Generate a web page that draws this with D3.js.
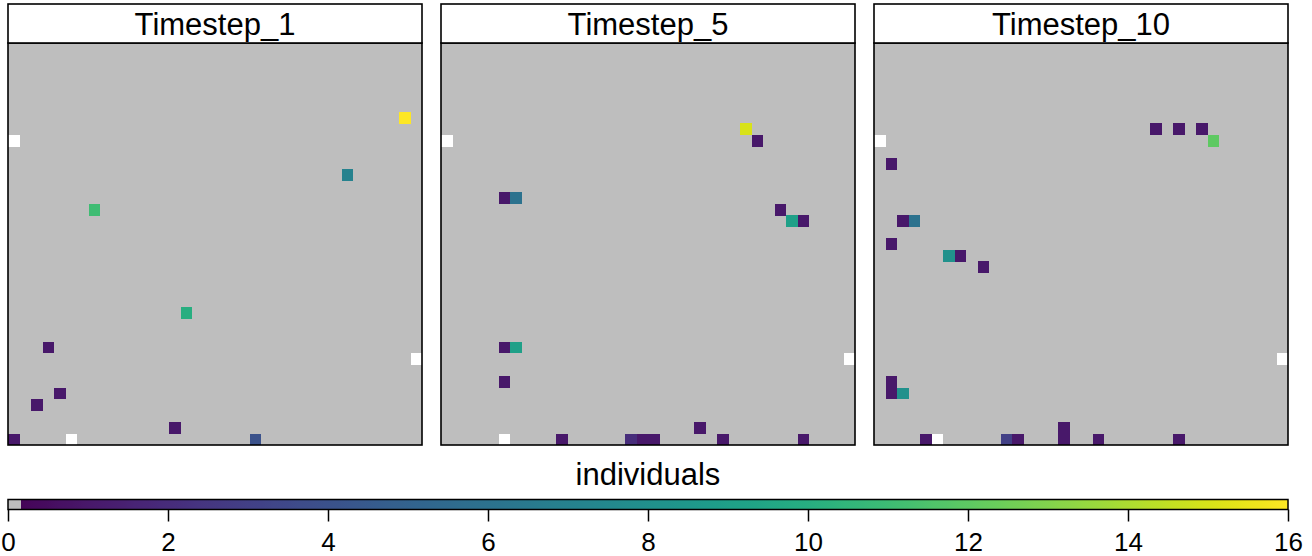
<!DOCTYPE html>
<html>
<head>
<meta charset="utf-8">
<script src="https://cdn.jsdelivr.net/npm/d3@7"></script>
<style>
  html, body { margin: 0; padding: 0; background: #ffffff; }
  svg { display: block; font-family: "Liberation Sans", Arial, Helvetica, sans-serif; }
</style>
</head>
<body>
<script>
// ---- data ----
const nCols = 36;
const nRows = 35;
const timesteps = ["Timestep_1", "Timestep_5", "Timestep_10"];
// [column, row (from top), individuals]
const cellsTimestep1 = [
  [34, 6, 16], [29, 11, 7], [7, 14, 11], [15, 23, 10], [3, 26, 1],
  [4, 30, 1], [2, 31, 1], [14, 33, 1], [0, 34, 1], [21, 34, 4]
];
const cellsTimestep5 = [
  [26, 7, 15], [27, 8, 1], [5, 13, 1], [6, 13, 6], [29, 14, 1],
  [30, 15, 9], [31, 15, 1], [5, 26, 1], [6, 26, 9], [5, 29, 1],
  [22, 33, 1], [10, 34, 1], [16, 34, 2], [17, 34, 1], [18, 34, 1],
  [24, 34, 1], [31, 34, 1]
];
const cellsTimestep10 = [
  [24, 7, 1], [26, 7, 1], [28, 7, 1], [29, 8, 12], [1, 10, 1],
  [2, 15, 1], [3, 15, 6], [1, 17, 1], [6, 18, 8], [7, 18, 1],
  [9, 19, 1], [1, 29, 1], [1, 30, 1], [2, 30, 8], [4, 34, 1],
  [11, 34, 3], [12, 34, 1], [16, 33, 1], [16, 34, 1], [19, 34, 1],
  [26, 34, 1]
];
// cells with no data (drawn white)
const naCells = [[0, 8], [35, 27], [5, 34]];
const legendTicks = [0, 2, 4, 6, 8, 10, 12, 14, 16];
const legendDomain = [0, 16];
const legendTitle = "individuals";

const panelCells = [cellsTimestep1, cellsTimestep5, cellsTimestep10];

// ---- build full grids ----
function buildGrid(sparse) {
  const grid = [];
  for (let r = 0; r < nRows; r++)
    for (let c = 0; c < nCols; c++) grid.push({ col: c, row: r, value: 0 });
  const idx = (c, r) => r * nCols + c;
  sparse.forEach(([c, r, v]) => { grid[idx(c, r)].value = v; });
  naCells.forEach(([c, r]) => { grid[idx(c, r)].value = null; });
  return grid;
}

// ---- layout ----
const W = 1312, H = 556;
const svg = d3.select("body").append("svg").attr("width", W).attr("height", H);

const left = 8, right = 1288;
const stripTop = 4, panelTop = 43, panelBottom = 445;

const xPanel = d3.scaleBand().domain(timesteps).range([left, right])
  .paddingInner(19 / 433).paddingOuter(0);
const bw = xPanel.bandwidth();
const xCell = d3.scaleBand().domain(d3.range(nCols)).range([0, bw]);
const yCell = d3.scaleBand().domain(d3.range(nRows)).range([panelTop, panelBottom]);

const NA_COLOR = "#FFFFFF";
const ZERO_COLOR = "#BEBEBE";
const colorOf = v => v === null ? NA_COLOR : (v === 0 ? ZERO_COLOR : d3.interpolateViridis(v / legendDomain[1]));

timesteps.forEach((name, i) => {
  const g = svg.append("g").attr("transform", `translate(${xPanel(name)},0)`);
  g.append("rect").attr("x", 0).attr("y", panelTop).attr("width", bw)
    .attr("height", panelBottom - panelTop).attr("fill", ZERO_COLOR);
  g.append("g").attr("shape-rendering", "crispEdges")
    .selectAll("rect").data(buildGrid(panelCells[i]).filter(d => d.value !== 0)).join("rect")
    .attr("x", d => xCell(d.col)).attr("y", d => yCell(d.row))
    .attr("width", xCell.bandwidth() + 0.3).attr("height", yCell.bandwidth() + 0.3)
    .attr("fill", d => colorOf(d.value));
  // panel border
  g.append("rect").attr("x", 0).attr("y", panelTop).attr("width", bw)
    .attr("height", panelBottom - panelTop).attr("fill", "none")
    .attr("stroke", "#000").attr("stroke-width", 1.6);
  // strip
  g.append("rect").attr("x", 0).attr("y", stripTop).attr("width", bw)
    .attr("height", panelTop - stripTop).attr("fill", "#fff")
    .attr("stroke", "#000").attr("stroke-width", 1.6);
  g.append("text").attr("x", bw / 2).attr("y", 35).attr("text-anchor", "middle")
    .attr("font-size", 31).attr("fill", "#000").text(name);
});

// ---- legend ----
const xLeg = d3.scaleLinear().domain(legendDomain).range([left, right]);
const barTop = 499.5, barH = 10;
const defs = svg.append("defs");
const grad = defs.append("linearGradient").attr("id", "vir").attr("x1", "0%").attr("x2", "100%");
const greyEnd = 0.16 / legendDomain[1];
grad.append("stop").attr("offset", 0).attr("stop-color", ZERO_COLOR);
grad.append("stop").attr("offset", greyEnd).attr("stop-color", ZERO_COLOR);
d3.range(0, 101).forEach(k => {
  const t = greyEnd + (1 - greyEnd) * k / 100;
  grad.append("stop").attr("offset", t).attr("stop-color", d3.interpolateViridis(t));
});
svg.append("rect").attr("x", xLeg(legendDomain[0])).attr("y", barTop)
  .attr("width", xLeg(legendDomain[1]) - xLeg(legendDomain[0])).attr("height", barH)
  .attr("fill", "url(#vir)").attr("stroke", "#000").attr("stroke-width", 1.5);

const axis = d3.axisBottom(xLeg).tickValues(legendTicks).tickSize(12).tickSizeOuter(0).tickPadding(11)
  .tickFormat(d3.format("d"));
const ag = svg.append("g").attr("transform", `translate(0,${barTop + barH})`).call(axis);
ag.select(".domain").remove();
ag.selectAll(".tick line").attr("stroke", "#000").attr("stroke-width", 1.5);
ag.selectAll(".tick text").attr("font-size", 26).attr("fill", "#000")
  .attr("font-family", "'Liberation Sans', Arial, sans-serif");

svg.append("text").attr("x", (left + right) / 2).attr("y", 485).attr("text-anchor", "middle")
  .attr("font-size", 31).attr("fill", "#000").text(legendTitle);
</script>
</body>
</html>
